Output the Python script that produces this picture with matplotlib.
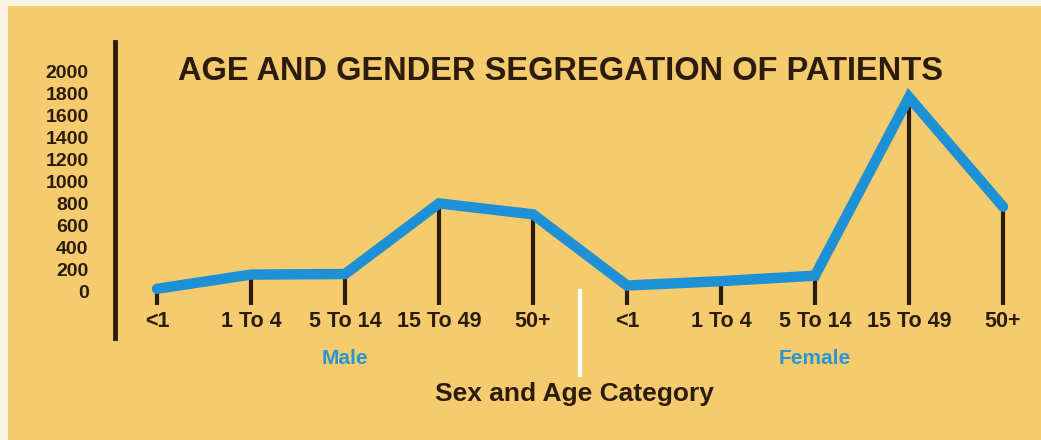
import numpy as np
import matplotlib.pyplot as plt
from matplotlib.patches import Rectangle

groups = ['Male', 'Female']
ages = ['<1', '1 To 4', '5 To 14', '15 To 49', '50+']
male = [20, 150, 155, 800, 700]
female = [50, 90, 140, 1770, 770]
yticks = [0, 200, 400, 600, 800, 1000, 1200, 1400, 1600, 1800, 2000]

bg = '#F6CB6E'
dark = '#2B1C0E'
blue = '#1E90D6'

W, H = 1041, 440
fig = plt.figure(figsize=(W / 100, H / 100), dpi=100, facecolor='#FCF4E4')
fig.patches.append(Rectangle((8 / W, 0), 1, 1 - 6 / H, transform=fig.transFigure,
                             facecolor=bg, edgecolor='none', zorder=-10))

# axes box in pixels: left 115, right 1041, top 42, bottom 338
ax = fig.add_axes([115 / W, (H - 338) / H, (W - 115) / W, (338 - 42) / H])
ax.set_facecolor('none')
ax.set_zorder(2)

values = male + female
labels = ages + ages
x = np.arange(len(values))

# x: index 0 -> 157 px, spacing 94 px
ax.set_xlim((115 - 157) / 94, (W - 157) / 94)
# y: value 0 -> 291 px, 0.1095 px per unit
ax.set_ylim((291 - 338) / 0.1095, (291 - 42) / 0.1095)

stem_bottom = (291 - 305) / 0.1095
ax.vlines(x, stem_bottom, values, colors=dark, linewidth=3, zorder=2)
ax.plot(x, values, color=blue, linewidth=7.5, solid_joinstyle='miter',
        solid_capstyle='round', zorder=3)

# white separator between groups
ax.plot([4.5, 4.5], [0, (291 - 375) / 0.1095], color='white', linewidth=3,
        clip_on=False, zorder=2)

for s in ['top', 'right', 'bottom']:
    ax.spines[s].set_visible(False)
ax.spines['left'].set_color(dark)
ax.spines['left'].set_linewidth(3.5)

ax.set_yticks(yticks)
ax.set_yticklabels([str(v) for v in yticks], fontsize=14, fontweight='bold',
                   color=dark, family='Liberation Sans')
ax.tick_params(axis='y', length=0, pad=19)

ax.set_xticks(x)
ax.set_xticklabels(labels, fontsize=15.5, fontweight='bold', color=dark,
                   family='Liberation Sans')
ax.tick_params(axis='x', length=0, pad=-19.5)

ax.text(2, -620, groups[0], ha='center', va='center', fontsize=15,
        fontweight='bold', color='#2A95D3', family='Liberation Sans', clip_on=False)
ax.text(7, -620, groups[1], ha='center', va='center', fontsize=15,
        fontweight='bold', color='#2A95D3', family='Liberation Sans', clip_on=False)

fig.text(574 / W, 1 - 394 / H, 'Sex and Age Category', ha='center', va='center',
         fontsize=19, fontweight='bold', color=dark, family='Liberation Sans')
fig.text(561 / W, 1 - 71 / H, 'AGE AND GENDER SEGREGATION OF PATIENTS',
         ha='center', va='center', fontsize=23.5, fontweight='bold', color=dark,
         family='Liberation Sans')

fig.savefig('out.png', dpi=100, facecolor=fig.get_facecolor())
